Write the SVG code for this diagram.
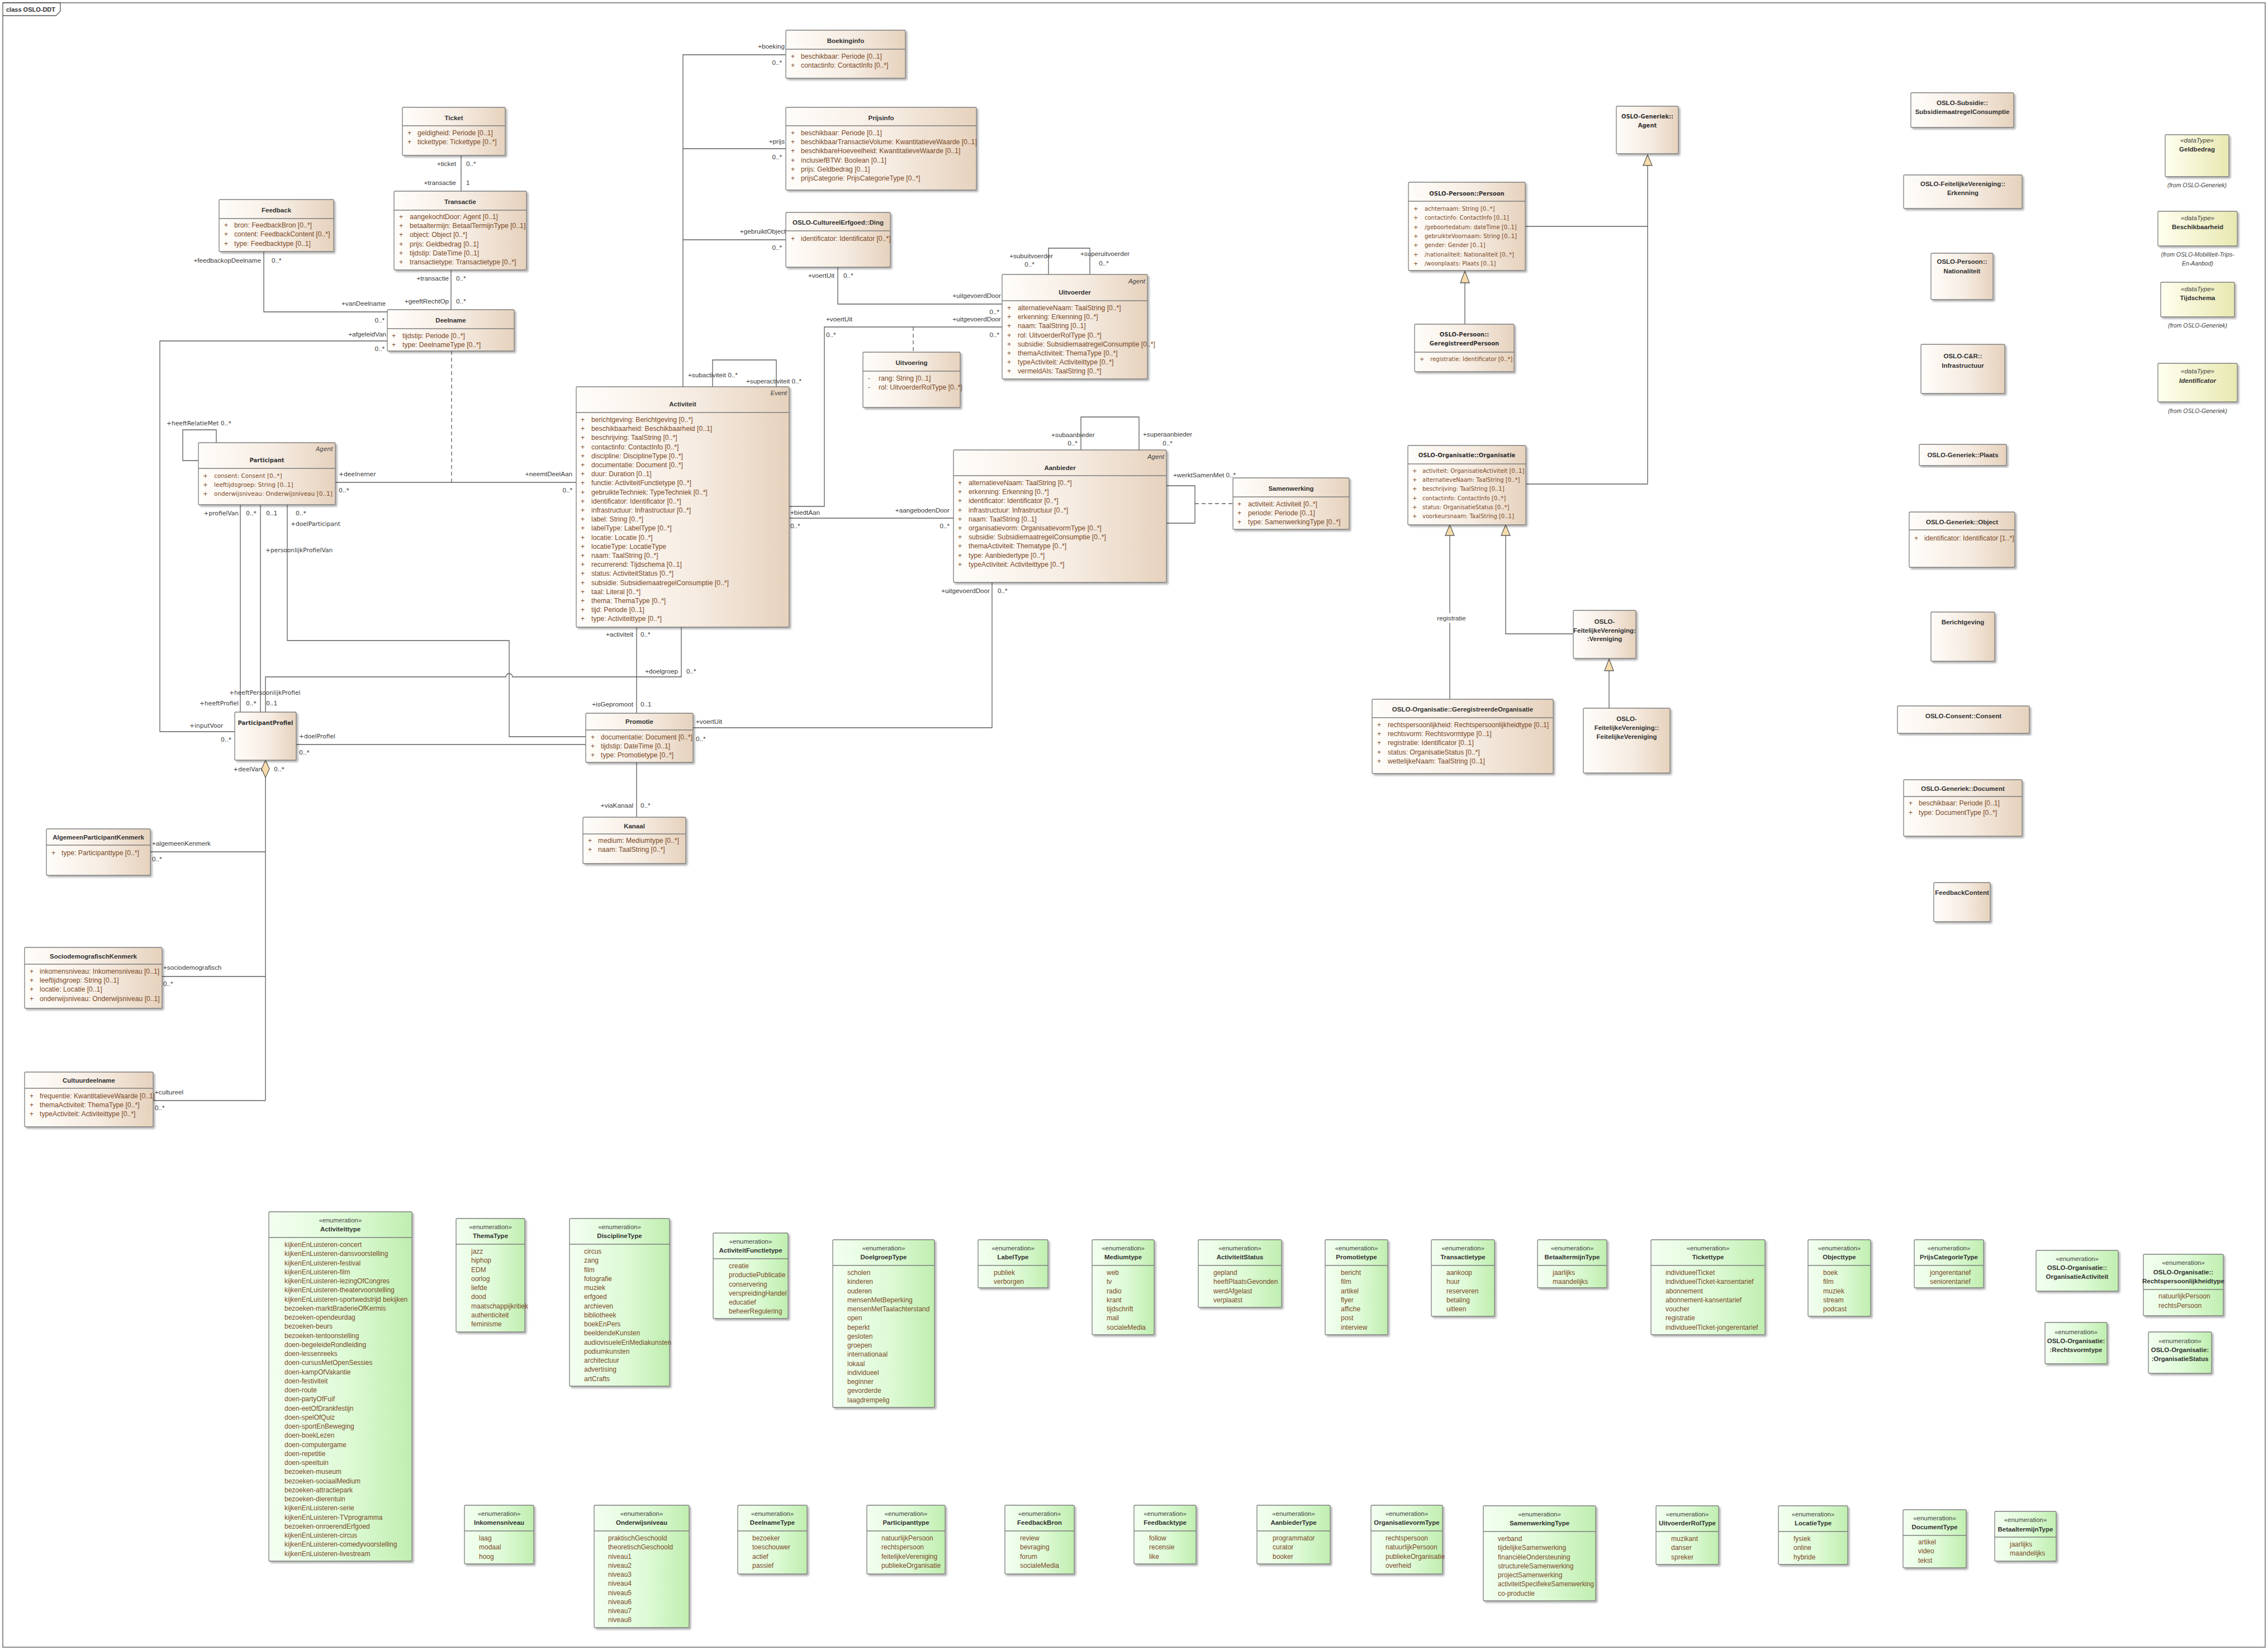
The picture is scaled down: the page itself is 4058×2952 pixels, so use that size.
<svg xmlns="http://www.w3.org/2000/svg" width="4058" height="2952" viewBox="0 0 4058 2952">
<defs>
<linearGradient id="gc" x1="0" y1="0" x2="1" y2="0"><stop offset="0" stop-color="#fffdfa"/><stop offset="0.55" stop-color="#f6ece2"/><stop offset="1" stop-color="#e6d2bd"/></linearGradient>
<linearGradient id="ge" x1="0" y1="0" x2="1" y2="0"><stop offset="0" stop-color="#f3fff1"/><stop offset="0.55" stop-color="#defad6"/><stop offset="1" stop-color="#c0eeb0"/></linearGradient>
<linearGradient id="gd" x1="0" y1="0" x2="1" y2="0"><stop offset="0" stop-color="#ffffef"/><stop offset="1" stop-color="#e8e8b2"/></linearGradient>
<filter id="sh" x="-5%" y="-5%" width="115%" height="115%"><feDropShadow dx="3" dy="3" stdDeviation="1.5" flood-color="#000" flood-opacity="0.28"/></filter>
</defs>
<style>
.c{fill:url(#gc);stroke:#7d7d7d;stroke-width:1.3;filter:url(#sh)}
.e{fill:url(#ge);stroke:#7d7d7d;stroke-width:1.3;filter:url(#sh)}
.d{fill:url(#gd);stroke:#7d7d7d;stroke-width:1.3;filter:url(#sh)}
.dv{stroke:#7d7d7d;stroke-width:1.3}
text{font-family:"Liberation Sans",Arial,sans-serif}
.ti{font-size:11.5px;font-weight:bold;fill:#333;text-anchor:middle}
.at{font-size:12.2px;fill:#7b4a28}
.st{font-size:11.5px;font-style:italic;fill:#444;text-anchor:end}
.en{font-size:11.5px;fill:#444;text-anchor:middle}
.ei{font-size:12px;fill:#7b4a28}
.lb{font-size:11.7px;fill:#3a3a3a}
.r{text-anchor:end}
.m{text-anchor:middle}
.tiv{font-family:"DejaVu Sans",Verdana,sans-serif;font-size:10px;font-weight:bold;fill:#333;text-anchor:middle}
.atv{font-family:"DejaVu Sans",Verdana,sans-serif;font-size:10px;fill:#7b4a28}
.atp{font-family:"DejaVu Sans",Verdana,sans-serif;font-size:10.5px;fill:#7b4a28}
.lbv{font-family:"DejaVu Sans",Verdana,sans-serif;font-size:10.7px;fill:#3a3a3a}
.stv{font-family:"DejaVu Sans",Verdana,sans-serif;font-size:10.5px;font-style:italic;fill:#444;text-anchor:end}
.fr{font-size:10.5px;font-style:italic;fill:#444;text-anchor:middle}
.ln{fill:none;stroke:#5c5c5c;stroke-width:1.3}
.ds{stroke-dasharray:7 5}
.tr{fill:#f8dcab;stroke:#5c5c5c;stroke-width:1.3}
</style>
<rect x="0" y="0" width="4058" height="2952" fill="#fff"/>
<g id="frame">
<rect x="5" y="5" width="4048" height="2942" fill="none" stroke="#555" stroke-width="1.3"/>
<path d="M5,5 H108 V20 L100,28 H5" fill="none" stroke="#555" stroke-width="1.3"/>
<text x="11" y="21" style="font-size:11px;font-weight:bold;fill:#333">class OSLO-DDT</text>
</g>

<g id="connectors">
<path class="ln" d="M825,278 V342"/>
<path class="ln" d="M807,483 V554"/>
<path class="ln" d="M472,450 V558 H693"/>
<path class="ln" d="M693,610 H286 V1309 H420"/>
<path class="ln ds" d="M808,628 V863"/>
<path class="ln" d="M600,863 H1031"/>
<path class="ln" d="M355,824 H327 V769 H387 V792"/>
<path class="ln" d="M430,903 V1274"/>
<path class="ln" d="M466,903 V1274"/>
<path class="ln" d="M514,903 V1146 H911 V1318 H1048"/>
<path class="ln" d="M475,1274 V1211 H905 A6,6 0 0 1 917,1211 H1219 V1122"/>
<path class="ln" d="M1139,1122 V1276"/>
<path class="ln" d="M530,1332 H1048"/>
<path class="ln" d="M475,1391 V1969 M269,1524 H475 M290,1747 H475 M274,1969 H475"/>
<polygon class="tr" points="475,1360 482,1375.5 475,1391 468,1375.5"/>
<path class="ln" d="M1222,692 V98 H1406 M1222,266 H1406 M1222,429 H1406"/>
<path class="ln" d="M1275,692 V644 H1389 V692"/>
<path class="ln" d="M1499,478 V544 H1793"/>
<path class="ln" d="M1412,906 H1475 V585 H1793"/>
<path class="ln ds" d="M1634,585 V630"/>
<path class="ln" d="M1876,491 V444 H1950 V491"/>
<path class="ln" d="M1412,927 H1706"/>
<path class="ln" d="M1934,805 V746 H2038 V805"/>
<path class="ln" d="M2087,869 H2138 V936 H2087"/>
<path class="ln ds" d="M2138,901 H2206"/>
<path class="ln" d="M1775,1042 V1302 H1240"/>
<path class="ln" d="M1139,1364 V1462"/>
<path class="ln" d="M2948,296 V866 M2729,405 H2948 M2731,866 H2948"/>
<polygon class="tr" points="2948,277 2956,296 2940,296"/>
<path class="ln" d="M2621,506 V580"/>
<polygon class="tr" points="2621,485 2629,506 2613,506"/>
<path class="ln" d="M2594,958 V1251 M2694,958 V1134 H2815"/>
<polygon class="tr" points="2594,939 2602,958 2586,958"/>
<polygon class="tr" points="2694,939 2702,958 2686,958"/>
<path class="ln" d="M2879,1200 V1267"/>
<polygon class="tr" points="2879,1179 2887,1200 2871,1200"/>
<rect x="2571" y="1097" width="52" height="17" fill="#fff"/>
<text class="lb m" x="2597" y="1110">registratie</text>

<text class="lb r" x="816" y="297">+ticket</text><text class="lb" x="834" y="297">0..*</text>
<text class="lb r" x="816" y="331">+transactie</text><text class="lb" x="834" y="331">1</text>
<text class="lb r" x="803" y="502">+transactie</text><text class="lb" x="816" y="502">0..*</text>
<text class="lb r" x="803" y="543">+geeftRechtOp</text><text class="lb" x="816" y="543">0..*</text>
<text class="lb r" x="467" y="470">+feedbackopDeelname</text><text class="lb" x="486" y="470">0..*</text>
<text class="lb r" x="690" y="547">+vanDeelname</text><text class="lb r" x="688" y="577">0..*</text>
<text class="lb r" x="691" y="602">+afgeleidVan</text><text class="lb r" x="688" y="628">0..*</text>
<text class="lbv" x="339" y="1302">+inputVoor</text><text class="lbv r" x="414" y="1327">0..*</text>
<text class="lbv" x="606" y="852">+deelnemer</text><text class="lbv" x="606" y="881">0..*</text>
<text class="lb r" x="1024" y="852">+neemtDeelAan</text><text class="lb r" x="1024" y="881">0..*</text>
<text class="lbv" x="298" y="761">+heeftRelatieMet 0..*</text>
<text class="lbv r" x="427" y="922">+profielVan</text><text class="lbv" x="440" y="922">0..*</text>
<text class="lbv r" x="427" y="1262">+heeftProfiel</text><text class="lbv" x="440" y="1262">0..*</text>
<text class="lbv" x="476" y="922">0..1</text><text class="lbv" x="475" y="988">+persoonlijkProfielVan</text>
<text class="lbv" x="410" y="1243">+heeftPersoonlijkProfiel</text><text class="lbv" x="476" y="1262">0..1</text>
<text class="lbv" x="529" y="922">0..*</text><text class="lbv" x="520" y="941">+doelParticipant</text>
<text class="lb r" x="1213" y="1205">+doelgroep</text><text class="lb" x="1228" y="1205">0..*</text>
<text class="lb r" x="1133" y="1139">+activiteit</text><text class="lb" x="1146" y="1139">0..*</text>
<text class="lb r" x="1133" y="1264">+isGepromoot</text><text class="lb" x="1146" y="1264">0..1</text>
<text class="lbv" x="535" y="1321">+doelProfiel</text><text class="lbv" x="535" y="1350">0..*</text>
<text class="lbv r" x="469" y="1380">+deelVan</text><text class="lbv" x="490" y="1380">0..*</text>
<text class="lb" x="272" y="1513">+algemeenKenmerk</text><text class="lb" x="272" y="1541">0..*</text>
<text class="lb" x="292" y="1735">+sociodemografisch</text><text class="lb" x="292" y="1764">0..*</text>
<text class="lb" x="277" y="1958">+cultureel</text><text class="lb" x="277" y="1986">0..*</text>
<text class="lb r" x="1404" y="87">+boeking</text><text class="lb r" x="1399" y="116">0..*</text>
<text class="lb r" x="1404" y="257">+prijs</text><text class="lb r" x="1399" y="285">0..*</text>
<text class="lb r" x="1406" y="418">+gebruiktObject</text><text class="lb r" x="1399" y="447">0..*</text>
<text class="lb" x="1231" y="675">+subactiviteit 0..*</text>
<text class="lb" x="1335" y="686">+superactiviteit 0..*</text>
<text class="lb r" x="1493" y="497">+voertUit</text><text class="lb" x="1509" y="497">0..*</text>
<text class="lb r" x="1791" y="533">+uitgevoerdDoor</text><text class="lb r" x="1788" y="562">0..*</text>
<text class="lb" x="1478" y="575">+voertUit</text><text class="lb" x="1478" y="603">0..*</text>
<text class="lb r" x="1791" y="575">+uitgevoerdDoor</text><text class="lb r" x="1788" y="603">0..*</text>
<text class="lb m" x="1845" y="462">+subuitvoerder</text><text class="lb m" x="1842" y="477">0..*</text>
<text class="lb" x="1933" y="458">+superuitvoerder</text><text class="lb m" x="1975" y="475">0..*</text>
<text class="lb" x="1414" y="921">+biedtAan</text><text class="lb" x="1414" y="945">0..*</text>
<text class="lb r" x="1699" y="917">+aangebodenDoor</text><text class="lb r" x="1699" y="945">0..*</text>
<text class="lb" x="1881" y="782">+subaanbieder</text><text class="lb m" x="1919" y="797">0..*</text>
<text class="lb" x="2045" y="781">+superaanbieder</text><text class="lb m" x="2089" y="797">0..*</text>
<text class="lb" x="2099" y="854">+werktSamenMet 0..*</text>
<text class="lb r" x="1771" y="1061">+uitgevoerdDoor</text><text class="lb" x="1785" y="1061">0..*</text>
<text class="lb" x="1245" y="1295">+voertUit</text><text class="lb" x="1245" y="1326">0..*</text>
<text class="lb r" x="1133" y="1445">+viaKanaal</text><text class="lb" x="1146" y="1445">0..*</text>
</g>

<g id="Ticket"><rect class="c" x="720" y="192" width="184" height="86" rx="2"/><text class="ti" x="812" y="215">Ticket</text><line class="dv" x1="720" y1="225" x2="904" y2="225"/>
<text class="at" x="729" y="242">+<tspan x="729" dy="16.2">+</tspan></text>
<text class="at" x="747" y="242">geldigheid: Periode [0..1]<tspan x="747" dy="16.2">tickettype: Tickettype [0..*]</tspan></text></g>

<g id="Transactie"><rect class="c" x="705" y="342" width="237" height="141" rx="2"/><text class="ti" x="823.5" y="365">Transactie</text><line class="dv" x1="705" y1="376" x2="942" y2="376"/>
<text class="at" x="714" y="392">+<tspan x="714" dy="16.2">+</tspan><tspan x="714" dy="16.2">+</tspan><tspan x="714" dy="16.2">+</tspan><tspan x="714" dy="16.2">+</tspan><tspan x="714" dy="16.2">+</tspan></text>
<text class="at" x="733" y="392">aangekochtDoor: Agent [0..1]<tspan x="733" dy="16.2">betaaltermijn: BetaalTermijnType [0..1]</tspan><tspan x="733" dy="16.2">object: Object [0..*]</tspan><tspan x="733" dy="16.2">prijs: Geldbedrag [0..1]</tspan><tspan x="733" dy="16.2">tijdstip: DateTime [0..1]</tspan><tspan x="733" dy="16.2">transactietype: Transactietype [0..*]</tspan></text></g>

<g id="Feedback"><rect class="c" x="392" y="357" width="205" height="93" rx="2"/><text class="ti" x="494.5" y="380">Feedback</text><line class="dv" x1="392" y1="391" x2="597" y2="391"/>
<text class="at" x="401" y="407">+<tspan x="401" dy="16.4">+</tspan><tspan x="401" dy="16.4">+</tspan></text>
<text class="at" x="419" y="407">bron: FeedbackBron [0..*]<tspan x="419" dy="16.4">content: FeedbackContent [0..*]</tspan><tspan x="419" dy="16.4">type: Feedbacktype [0..1]</tspan></text></g>

<g id="Deelname"><rect class="c" x="693" y="554" width="227" height="74" rx="2"/><text class="ti" x="806.5" y="577">Deelname</text><line class="dv" x1="693" y1="588" x2="920" y2="588"/>
<text class="at" x="701" y="605">+<tspan x="701" dy="16">+</tspan></text>
<text class="at" x="720" y="605">tijdstip: Periode [0..*]<tspan x="720" dy="16">type: DeelnameType [0..*]</tspan></text></g>

<g id="Boekinginfo"><rect class="c" x="1406" y="54" width="214" height="86" rx="2"/><text class="ti" x="1513" y="77">Boekinginfo</text><line class="dv" x1="1406" y1="88" x2="1620" y2="88"/>
<text class="at" x="1415" y="105">+<tspan x="1415" dy="16.2">+</tspan></text>
<text class="at" x="1433" y="105">beschikbaar: Periode [0..1]<tspan x="1433" dy="16.2">contactinfo: ContactInfo [0..*]</tspan></text></g>

<g id="Prijsinfo"><rect class="c" x="1406" y="192" width="341" height="148" rx="2"/><text class="ti" x="1576.5" y="215">Prijsinfo</text><line class="dv" x1="1406" y1="225" x2="1747" y2="225"/>
<text class="at" x="1415" y="242">+<tspan x="1415" dy="16.2">+</tspan><tspan x="1415" dy="16.2">+</tspan><tspan x="1415" dy="16.2">+</tspan><tspan x="1415" dy="16.2">+</tspan><tspan x="1415" dy="16.2">+</tspan></text>
<text class="at" x="1433" y="242">beschikbaar: Periode [0..1]<tspan x="1433" dy="16.2">beschikbaarTransactieVolume: KwantitatieveWaarde [0..1]</tspan><tspan x="1433" dy="16.2">beschikbareHoeveelheid: KwantitatieveWaarde [0..1]</tspan><tspan x="1433" dy="16.2">inclusiefBTW: Boolean [0..1]</tspan><tspan x="1433" dy="16.2">prijs: Geldbedrag [0..1]</tspan><tspan x="1433" dy="16.2">prijsCategorie: PrijsCategorieType [0..*]</tspan></text></g>

<g id="Ding"><rect class="c" x="1406" y="380" width="187" height="98" rx="2"/><text class="ti" x="1499.5" y="402">OSLO-CultureelErfgoed::Ding</text><line class="dv" x1="1406" y1="413" x2="1593" y2="413"/>
<text class="at" x="1415" y="431">+</text><text class="at" x="1433" y="431">identificator: Identificator [0..*]</text></g>

<g id="Uitvoering"><rect class="c" x="1544" y="630" width="174" height="99" rx="2"/><text class="ti" x="1631" y="653">Uitvoering</text><line class="dv" x1="1544" y1="664" x2="1718" y2="664"/>
<text class="at" x="1553" y="681">-<tspan x="1553" dy="16.2">-</tspan></text>
<text class="at" x="1572" y="681">rang: String [0..1]<tspan x="1572" dy="16.2">rol: UitvoerderRolType [0..*]</tspan></text></g>

<g id="Uitvoerder"><rect class="c" x="1793" y="491" width="260" height="187" rx="2"/><text class="st" x="2049" y="507">Agent</text><text class="ti" x="1923" y="527">Uitvoerder</text><line class="dv" x1="1793" y1="538" x2="2053" y2="538"/>
<text class="at" x="1802" y="555">+<tspan x="1802" dy="16.2">+</tspan><tspan x="1802" dy="16.2">+</tspan><tspan x="1802" dy="16.2">+</tspan><tspan x="1802" dy="16.2">+</tspan><tspan x="1802" dy="16.2">+</tspan><tspan x="1802" dy="16.2">+</tspan><tspan x="1802" dy="16.2">+</tspan></text>
<text class="at" x="1821" y="555">alternatieveNaam: TaalString [0..*]<tspan x="1821" dy="16.2">erkenning: Erkenning [0..*]</tspan><tspan x="1821" dy="16.2">naam: TaalString [0..1]</tspan><tspan x="1821" dy="16.2">rol: UitvoerderRolType [0..*]</tspan><tspan x="1821" dy="16.2">subsidie: SubsidiemaatregelConsumptie [0..*]</tspan><tspan x="1821" dy="16.2">themaActiviteit: ThemaType [0..*]</tspan><tspan x="1821" dy="16.2">typeActiviteit: Activiteittype [0..*]</tspan><tspan x="1821" dy="16.2">vermeldAls: TaalString [0..*]</tspan></text></g>

<g id="Activiteit"><rect class="c" x="1031" y="692" width="381" height="430" rx="2"/><text class="st" x="1408" y="707">Event</text><text class="ti" x="1221.5" y="727">Activiteit</text><line class="dv" x1="1031" y1="738" x2="1412" y2="738"/>
<text class="at" x="1039" y="755">+<tspan x="1039" dy="16.2">+</tspan><tspan x="1039" dy="16.2">+</tspan><tspan x="1039" dy="16.2">+</tspan><tspan x="1039" dy="16.2">+</tspan><tspan x="1039" dy="16.2">+</tspan><tspan x="1039" dy="16.2">+</tspan><tspan x="1039" dy="16.2">+</tspan><tspan x="1039" dy="16.2">+</tspan><tspan x="1039" dy="16.2">+</tspan><tspan x="1039" dy="16.2">+</tspan><tspan x="1039" dy="16.2">+</tspan><tspan x="1039" dy="16.2">+</tspan><tspan x="1039" dy="16.2">+</tspan><tspan x="1039" dy="16.2">+</tspan><tspan x="1039" dy="16.2">+</tspan><tspan x="1039" dy="16.2">+</tspan><tspan x="1039" dy="16.2">+</tspan><tspan x="1039" dy="16.2">+</tspan><tspan x="1039" dy="16.2">+</tspan><tspan x="1039" dy="16.2">+</tspan><tspan x="1039" dy="16.2">+</tspan><tspan x="1039" dy="16.2">+</tspan></text>
<text class="at" x="1058" y="755">berichtgeving: Berichtgeving [0..*]<tspan x="1058" dy="16.2">beschikbaarheid: Beschikbaarheid [0..1]</tspan><tspan x="1058" dy="16.2">beschrijving: TaalString [0..*]</tspan><tspan x="1058" dy="16.2">contactinfo: ContactInfo [0..*]</tspan><tspan x="1058" dy="16.2">discipline: DisciplineType [0..*]</tspan><tspan x="1058" dy="16.2">documentatie: Document [0..*]</tspan><tspan x="1058" dy="16.2">duur: Duration [0..1]</tspan><tspan x="1058" dy="16.2">functie: ActiviteitFunctietype [0..*]</tspan><tspan x="1058" dy="16.2">gebruikteTechniek: TypeTechniek [0..*]</tspan><tspan x="1058" dy="16.2">identificator: Identificator [0..*]</tspan><tspan x="1058" dy="16.2">infrastructuur: Infrastructuur [0..*]</tspan><tspan x="1058" dy="16.2">label: String [0..*]</tspan><tspan x="1058" dy="16.2">labelType: LabelType [0..*]</tspan><tspan x="1058" dy="16.2">locatie: Locatie [0..*]</tspan><tspan x="1058" dy="16.2">locatieType: LocatieType</tspan><tspan x="1058" dy="16.2">naam: TaalString [0..*]</tspan><tspan x="1058" dy="16.2">recurrerend: Tijdschema [0..1]</tspan><tspan x="1058" dy="16.2">status: ActiviteitStatus [0..*]</tspan><tspan x="1058" dy="16.2">subsidie: SubsidiemaatregelConsumptie [0..*]</tspan><tspan x="1058" dy="16.2">taal: Literal [0..*]</tspan><tspan x="1058" dy="16.2">thema: ThemaType [0..*]</tspan><tspan x="1058" dy="16.2">tijd: Periode [0..1]</tspan><tspan x="1058" dy="16.2">type: Activiteittype [0..*]</tspan></text></g>

<g id="Aanbieder"><rect class="c" x="1706" y="805" width="381" height="237" rx="2"/><text class="st" x="2083" y="821">Agent</text><text class="ti" x="1896.5" y="841">Aanbieder</text><line class="dv" x1="1706" y1="851" x2="2087" y2="851"/>
<text class="at" x="1714" y="868">+<tspan x="1714" dy="16.2">+</tspan><tspan x="1714" dy="16.2">+</tspan><tspan x="1714" dy="16.2">+</tspan><tspan x="1714" dy="16.2">+</tspan><tspan x="1714" dy="16.2">+</tspan><tspan x="1714" dy="16.2">+</tspan><tspan x="1714" dy="16.2">+</tspan><tspan x="1714" dy="16.2">+</tspan><tspan x="1714" dy="16.2">+</tspan></text>
<text class="at" x="1733" y="868">alternatieveNaam: TaalString [0..*]<tspan x="1733" dy="16.2">erkenning: Erkenning [0..*]</tspan><tspan x="1733" dy="16.2">identificator: Identificator [0..*]</tspan><tspan x="1733" dy="16.2">infrastructuur: Infrastructuur [0..*]</tspan><tspan x="1733" dy="16.2">naam: TaalString [0..1]</tspan><tspan x="1733" dy="16.2">organisatievorm: OrganisatievormType [0..*]</tspan><tspan x="1733" dy="16.2">subsidie: SubsidiemaatregelConsumptie [0..*]</tspan><tspan x="1733" dy="16.2">themaActiviteit: Thematype [0..*]</tspan><tspan x="1733" dy="16.2">type: Aanbiedertype [0..*]</tspan><tspan x="1733" dy="16.2">typeActiviteit: Activiteittype [0..*]</tspan></text></g>

<g id="Samenwerking"><rect class="c" x="2206" y="855" width="208" height="92" rx="2"/><text class="ti" x="2310" y="878">Samenwerking</text><line class="dv" x1="2206" y1="889" x2="2414" y2="889"/>
<text class="at" x="2214" y="906">+<tspan x="2214" dy="16.2">+</tspan><tspan x="2214" dy="16.2">+</tspan></text>
<text class="at" x="2233" y="906">activiteit: Activiteit [0..*]<tspan x="2233" dy="16.2">periode: Periode [0..1]</tspan><tspan x="2233" dy="16.2">type: SamenwerkingType [0..*]</tspan></text></g>

<g id="Participant"><rect class="c" x="355" y="792" width="245" height="111" rx="2"/><text class="stv" x="596" y="807">Agent</text><text class="tiv" x="477.5" y="827">Participant</text><line class="dv" x1="355" y1="838" x2="600" y2="838"/>
<text class="atp" x="363" y="855">+<tspan x="363" dy="16">+</tspan><tspan x="363" dy="16">+</tspan></text>
<text class="atp" x="383" y="855">consent: Consent [0..*]<tspan x="383" dy="16">leeftijdsgroep: String [0..1]</tspan><tspan x="383" dy="16">onderwijsniveau: Onderwijsniveau [0..1]</tspan></text></g>

<g id="ParticipantProfiel"><rect class="c" x="420" y="1274" width="110" height="86" rx="2"/><text class="tiv" x="475" y="1297">ParticipantProfiel</text></g>

<g id="Promotie"><rect class="c" x="1048" y="1276" width="192" height="88" rx="2"/><text class="ti" x="1144" y="1295">Promotie</text><line class="dv" x1="1048" y1="1306" x2="1240" y2="1306"/>
<text class="at" x="1057" y="1323">+<tspan x="1057" dy="16">+</tspan><tspan x="1057" dy="16">+</tspan></text>
<text class="at" x="1075" y="1323">documentatie: Document [0..*]<tspan x="1075" dy="16">tijdstip: DateTime [0..1]</tspan><tspan x="1075" dy="16">type: Promotietype [0..*]</tspan></text></g>

<g id="Kanaal"><rect class="c" x="1043" y="1462" width="184" height="83" rx="2"/><text class="ti" x="1135" y="1482">Kanaal</text><line class="dv" x1="1043" y1="1492" x2="1227" y2="1492"/>
<text class="at" x="1052" y="1508">+<tspan x="1052" dy="16.2">+</tspan></text>
<text class="at" x="1070" y="1508">medium: Mediumtype [0..*]<tspan x="1070" dy="16.2">naam: TaalString [0..*]</tspan></text></g>

<g id="AlgemeenParticipantKenmerk"><rect class="c" x="83" y="1483" width="186" height="83" rx="2"/><text class="ti" x="176" y="1502">AlgemeenParticipantKenmerk</text><line class="dv" x1="83" y1="1512" x2="269" y2="1512"/>
<text class="at" x="92" y="1530">+</text><text class="at" x="110" y="1530">type: Participanttype [0..*]</text></g>

<g id="SociodemografischKenmerk"><rect class="c" x="44" y="1695" width="246" height="109" rx="2"/><text class="ti" x="167" y="1715">SociodemografischKenmerk</text><line class="dv" x1="44" y1="1725" x2="290" y2="1725"/>
<text class="at" x="53" y="1742">+<tspan x="53" dy="16.2">+</tspan><tspan x="53" dy="16.2">+</tspan><tspan x="53" dy="16.2">+</tspan></text>
<text class="at" x="71" y="1742">inkomensniveau: Inkomensniveau [0..1]<tspan x="71" dy="16.2">leeftijdsgroep: String [0..1]</tspan><tspan x="71" dy="16.2">locatie: Locatie [0..1]</tspan><tspan x="71" dy="16.2">onderwijsniveau: Onderwijsniveau [0..1]</tspan></text></g>

<g id="Cultuurdeelname"><rect class="c" x="44" y="1918" width="230" height="98" rx="2"/><text class="ti" x="159" y="1937">Cultuurdeelname</text><line class="dv" x1="44" y1="1947" x2="274" y2="1947"/>
<text class="at" x="53" y="1965">+<tspan x="53" dy="16.2">+</tspan><tspan x="53" dy="16.2">+</tspan></text>
<text class="at" x="71" y="1965">frequentie: KwantitatieveWaarde [0..1]<tspan x="71" dy="16.2">themaActiviteit: ThemaType [0..*]</tspan><tspan x="71" dy="16.2">typeActiviteit: Activiteittype [0..*]</tspan></text></g>

<g id="Agent"><rect class="c" x="2892" y="190" width="111" height="85" rx="2"/><text class="tiv" x="2947.5" y="212">OSLO-Generiek::<tspan x="2947.5" dy="16">Agent</tspan></text></g>

<g id="Persoon"><rect class="c" x="2520" y="326" width="209" height="158" rx="2"/><text class="tiv" x="2624.5" y="350">OSLO-Persoon::Persoon</text><line class="dv" x1="2520" y1="360" x2="2729" y2="360"/>
<text class="atv" x="2529" y="377">+<tspan x="2529" dy="16.3">+</tspan><tspan x="2529" dy="16.3">+</tspan><tspan x="2529" dy="16.3">+</tspan><tspan x="2529" dy="16.3">+</tspan><tspan x="2529" dy="16.3">+</tspan><tspan x="2529" dy="16.3">+</tspan></text>
<text class="atv" x="2549" y="377">achternaam: String [0..*]<tspan x="2549" dy="16.3">contactinfo: ContactInfo [0..1]</tspan><tspan x="2549" dy="16.3">/geboortedatum: dateTime [0..1]</tspan><tspan x="2549" dy="16.3">gebruikteVoornaam: String [0..1]</tspan><tspan x="2549" dy="16.3">gender: Gender [0..1]</tspan><tspan x="2549" dy="16.3">/nationaliteit: Nationaliteit [0..*]</tspan><tspan x="2549" dy="16.3">/woonplaats: Plaats [0..1]</tspan></text></g>

<g id="GeregistreerdPersoon"><rect class="c" x="2531" y="580" width="178" height="85" rx="2"/><text class="tiv" x="2620" y="602">OSLO-Persoon::<tspan x="2620" dy="16">GeregistreerdPersoon</tspan></text><line class="dv" x1="2531" y1="630" x2="2709" y2="630"/>
<text class="atv" x="2540" y="646">+</text><text class="atv" x="2559" y="646">registratie: Identificator [0..*]</text></g>

<g id="Organisatie"><rect class="c" x="2519" y="797" width="211" height="142" rx="2"/><text class="tiv" x="2624.5" y="818">OSLO-Organisatie::Organisatie</text><line class="dv" x1="2519" y1="830" x2="2730" y2="830"/>
<text class="atv" x="2527" y="846">+<tspan x="2527" dy="16.2">+</tspan><tspan x="2527" dy="16.2">+</tspan><tspan x="2527" dy="16.2">+</tspan><tspan x="2527" dy="16.2">+</tspan><tspan x="2527" dy="16.2">+</tspan></text>
<text class="atv" x="2545" y="846">activiteit: OrganisatieActiviteit [0..1]<tspan x="2545" dy="16.2">alternatieveNaam: TaalString [0..*]</tspan><tspan x="2545" dy="16.2">beschrijving: TaalString [0..1]</tspan><tspan x="2545" dy="16.2">contactinfo: ContactInfo [0..*]</tspan><tspan x="2545" dy="16.2">status: OrganisatieStatus [0..*]</tspan><tspan x="2545" dy="16.2">voorkeursnaam: TaalString [0..1]</tspan></text></g>

<g id="Vereniging"><rect class="c" x="2815" y="1092" width="112" height="86" rx="2"/><text class="ti" x="2871" y="1116">OSLO-<tspan x="2871" dy="15.5">FeitelijkeVereniging:</tspan><tspan x="2871" dy="15.5">:Vereniging</tspan></text></g>

<g id="GeregistreerdeOrganisatie"><rect class="c" x="2455" y="1251" width="324" height="133" rx="2"/><text class="ti" x="2617" y="1273">OSLO-Organisatie::GeregistreerdeOrganisatie</text><line class="dv" x1="2455" y1="1284" x2="2779" y2="1284"/>
<text class="at" x="2464" y="1301">+<tspan x="2464" dy="16.2">+</tspan><tspan x="2464" dy="16.2">+</tspan><tspan x="2464" dy="16.2">+</tspan><tspan x="2464" dy="16.2">+</tspan></text>
<text class="at" x="2483" y="1301"><tspan x="2483" textLength="288" lengthAdjust="spacingAndGlyphs">rechtspersoonlijkheid: Rechtspersoonlijkheidtype [0..1]</tspan><tspan x="2483" dy="16.2">rechtsvorm: Rechtsvormtype [0..1]</tspan><tspan x="2483" dy="16.2">registratie: Identificator [0..1]</tspan><tspan x="2483" dy="16.2">status: OrganisatieStatus [0..*]</tspan><tspan x="2483" dy="16.2">wettelijkeNaam: TaalString [0..1]</tspan></text></g>

<g id="FeitelijkeVereniging"><rect class="c" x="2833" y="1267" width="155" height="116" rx="2"/><text class="ti" x="2910.5" y="1290">OSLO-<tspan x="2910.5" dy="16">FeitelijkeVereniging::</tspan><tspan x="2910.5" dy="16">FeitelijkeVereniging</tspan></text></g>

<g id="Subsidiemaatregelconsumptie"><rect class="c" x="3419" y="166" width="184" height="62" rx="2"/><text class="ti" x="3511" y="188">OSLO-Subsidie::<tspan x="3511" dy="16">SubsidiemaatregelConsumptie</tspan></text></g>
<g id="Erkenning"><rect class="c" x="3406" y="313" width="212" height="60" rx="2"/><text class="ti" x="3512" y="333">OSLO-FeitelijkeVereniging::<tspan x="3512" dy="16">Erkenning</tspan></text></g>
<g id="Nationaliteit"><rect class="c" x="3455" y="453" width="111" height="83" rx="2"/><text class="ti" x="3510.5" y="472">OSLO-Persoon::<tspan x="3510.5" dy="17">Nationaliteit</tspan></text></g>
<g id="Infrastructuur"><rect class="c" x="3437" y="616" width="150" height="88" rx="2"/><text class="ti" x="3512" y="641">OSLO-C&amp;R::<tspan x="3512" dy="17">Infrastructuur</tspan></text></g>
<g id="Plaats"><rect class="c" x="3434" y="795" width="156" height="38" rx="2"/><text class="ti" x="3512" y="818">OSLO-Generiek::Plaats</text></g>
<g id="Object"><rect class="c" x="3416" y="916" width="189" height="99" rx="2"/><text class="ti" x="3510.5" y="938">OSLO-Generiek::Object</text><line class="dv" x1="3416" y1="948" x2="3605" y2="948"/>
<text class="at" x="3425" y="967">+</text><text class="at" x="3443" y="967">identificator: Identificator [1..*]</text></g>
<g id="Berichtgeving"><rect class="c" x="3455" y="1095" width="114" height="88" rx="2"/><text class="ti" x="3512" y="1117">Berichtgeving</text></g>
<g id="Consent"><rect class="c" x="3395" y="1263" width="236" height="49" rx="2"/><text class="ti" x="3513" y="1285">OSLO-Consent::Consent</text></g>
<g id="Document"><rect class="c" x="3406" y="1395" width="212" height="101" rx="2"/><text class="ti" x="3512" y="1415">OSLO-Generiek::Document</text><line class="dv" x1="3406" y1="1425" x2="3618" y2="1425"/>
<text class="at" x="3415" y="1441">+<tspan x="3415" dy="16.5">+</tspan></text>
<text class="at" x="3433" y="1441">beschikbaar: Periode [0..1]<tspan x="3433" dy="16.5">type: DocumentType [0..*]</tspan></text></g>
<g id="FeedbackContent"><rect class="c" x="3460" y="1579" width="101" height="70" rx="2"/><text class="ti" x="3510.5" y="1601">FeedbackContent</text></g>

<g id="Geldbedrag"><rect class="d" x="3874" y="241" width="114" height="75" rx="2"/><text class="en" x="3931" y="255" style="font-style:italic">«dataType»</text><text class="ti" x="3931" y="271">Geldbedrag</text><text class="fr" x="3931" y="335">(from OSLO-Generiek)</text></g>
<g id="Beschikbaarheid"><rect class="d" x="3861" y="378" width="142" height="62" rx="2"/><text class="en" x="3932" y="394" style="font-style:italic">«dataType»</text><text class="ti" x="3932" y="410">Beschikbaarheid</text><text class="fr" x="3932" y="459">(from OSLO-Mobiliteit-Trips-<tspan x="3932" dy="16">En-Aanbod)</tspan></text></g>
<g id="Tijdschema"><rect class="d" x="3866" y="505" width="132" height="62" rx="2"/><text class="en" x="3932" y="521" style="font-style:italic">«dataType»</text><text class="ti" x="3932" y="537">Tijdschema</text><text class="fr" x="3932" y="586">(from OSLO-Generiek)</text></g>
<g id="Identificator"><rect class="d" x="3861" y="650" width="142" height="69" rx="2"/><text class="en" x="3932" y="668" style="font-style:italic">«dataType»</text><text class="ti" x="3932" y="685" style="font-style:italic">Identificator</text><text class="fr" x="3932" y="739">(from OSLO-Generiek)</text></g>

<g id="Activiteittype"><rect class="e" x="481" y="2168" width="256" height="625" rx="2"/><text class="en" x="609" y="2187">«enumeration»</text><text class="ti" x="609" y="2203">Activiteittype</text><line class="dv" x1="481" y1="2214" x2="737" y2="2214"/>
<text class="ei" x="509" y="2231">kijkenEnLuisteren-concert<tspan x="509" dy="16.25">kijkenEnLuisteren-dansvoorstelling</tspan><tspan x="509" dy="16.25">kijkenEnLuisteren-festival</tspan><tspan x="509" dy="16.25">kijkenEnLuisteren-film</tspan><tspan x="509" dy="16.25">kijkenEnLuisteren-lezingOfCongres</tspan><tspan x="509" dy="16.25">kijkenEnLuisteren-theatervoorstelling</tspan><tspan x="509" dy="16.25">kijkenEnLuisteren-sportwedstrijd bekijken</tspan><tspan x="509" dy="16.25">bezoeken-marktBraderieOfKermis</tspan><tspan x="509" dy="16.25">bezoeken-opendeurdag</tspan><tspan x="509" dy="16.25">bezoeken-beurs</tspan><tspan x="509" dy="16.25">bezoeken-tentoonstelling</tspan><tspan x="509" dy="16.25">doen-begeleideRondleiding</tspan><tspan x="509" dy="16.25">doen-lessenreeks</tspan><tspan x="509" dy="16.25">doen-cursusMetOpenSessies</tspan><tspan x="509" dy="16.25">doen-kampOfVakantie</tspan><tspan x="509" dy="16.25">doen-festiviteit</tspan><tspan x="509" dy="16.25">doen-route</tspan><tspan x="509" dy="16.25">doen-partyOfFuif</tspan><tspan x="509" dy="16.25">doen-eetOfDrankfestijn</tspan><tspan x="509" dy="16.25">doen-spelOfQuiz</tspan><tspan x="509" dy="16.25">doen-sportEnBeweging</tspan><tspan x="509" dy="16.25">doen-boekLezen</tspan><tspan x="509" dy="16.25">doen-computergame</tspan><tspan x="509" dy="16.25">doen-repetitie</tspan><tspan x="509" dy="16.25">doen-speeltuin</tspan><tspan x="509" dy="16.25">bezoeken-museum</tspan><tspan x="509" dy="16.25">bezoeken-sociaalMedium</tspan><tspan x="509" dy="16.25">bezoeken-attractiepark</tspan><tspan x="509" dy="16.25">bezoeken-dierentuin</tspan><tspan x="509" dy="16.25">kijkenEnLuisteren-serie</tspan><tspan x="509" dy="16.25">kijkenEnLuisteren-TVprogramma</tspan><tspan x="509" dy="16.25">bezoeken-onroerendErfgoed</tspan><tspan x="509" dy="16.25">kijkenEnLuisteren-circus</tspan><tspan x="509" dy="16.25">kijkenEnLuisteren-comedyvoorstelling</tspan><tspan x="509" dy="16.25">kijkenEnLuisteren-livestream</tspan></text></g>

<g id="ThemaType"><rect class="e" x="816" y="2180" width="123" height="203" rx="2"/><text class="en" x="877.5" y="2199">«enumeration»</text><text class="ti" x="877.5" y="2215">ThemaType</text><line class="dv" x1="816" y1="2226" x2="939" y2="2226"/>
<text class="ei" x="843" y="2243">jazz<tspan x="843" dy="16.25">hiphop</tspan><tspan x="843" dy="16.25">EDM</tspan><tspan x="843" dy="16.25">oorlog</tspan><tspan x="843" dy="16.25">liefde</tspan><tspan x="843" dy="16.25">dood</tspan><tspan x="843" dy="16.25">maatschappijkritiek</tspan><tspan x="843" dy="16.25">authenticiteit</tspan><tspan x="843" dy="16.25">feminisme</tspan></text></g>

<g id="DisciplineType"><rect class="e" x="1019" y="2180" width="179" height="300" rx="2"/><text class="en" x="1108.5" y="2199">«enumeration»</text><text class="ti" x="1108.5" y="2215">DisciplineType</text><line class="dv" x1="1019" y1="2226" x2="1198" y2="2226"/>
<text class="ei" x="1045" y="2243">circus<tspan x="1045" dy="16.25">zang</tspan><tspan x="1045" dy="16.25">film</tspan><tspan x="1045" dy="16.25">fotografie</tspan><tspan x="1045" dy="16.25">muziek</tspan><tspan x="1045" dy="16.25">erfgoed</tspan><tspan x="1045" dy="16.25">archieven</tspan><tspan x="1045" dy="16.25">bibliotheek</tspan><tspan x="1045" dy="16.25">boekEnPers</tspan><tspan x="1045" dy="16.25">beeldendeKunsten</tspan><tspan x="1045" dy="16.25">audiovisueleEnMediakunsten</tspan><tspan x="1045" dy="16.25">podiumkunsten</tspan><tspan x="1045" dy="16.25">architectuur</tspan><tspan x="1045" dy="16.25">advertising</tspan><tspan x="1045" dy="16.25">artCrafts</tspan></text></g>

<g id="ActiviteitFunctietype"><rect class="e" x="1276" y="2206" width="134" height="153" rx="2"/><text class="en" x="1343" y="2225">«enumeration»</text><text class="ti" x="1343" y="2241">ActiviteitFunctietype</text><line class="dv" x1="1276" y1="2252" x2="1410" y2="2252"/>
<text class="ei" x="1304" y="2269">creatie<tspan x="1304" dy="16.25">productiePublicatie</tspan><tspan x="1304" dy="16.25">conservering</tspan><tspan x="1304" dy="16.25">verspreidingHandel</tspan><tspan x="1304" dy="16.25">educatief</tspan><tspan x="1304" dy="16.25">beheerRegulering</tspan></text></g>

<g id="DoelgroepType"><rect class="e" x="1490" y="2218" width="182" height="300" rx="2"/><text class="en" x="1581" y="2237">«enumeration»</text><text class="ti" x="1581" y="2253">DoelgroepType</text><line class="dv" x1="1490" y1="2264" x2="1672" y2="2264"/>
<text class="ei" x="1516" y="2281">scholen<tspan x="1516" dy="16.25">kinderen</tspan><tspan x="1516" dy="16.25">ouderen</tspan><tspan x="1516" dy="16.25">mensenMetBeperking</tspan><tspan x="1516" dy="16.25">mensenMetTaalachterstand</tspan><tspan x="1516" dy="16.25">open</tspan><tspan x="1516" dy="16.25">beperkt</tspan><tspan x="1516" dy="16.25">gesloten</tspan><tspan x="1516" dy="16.25">groepen</tspan><tspan x="1516" dy="16.25">internationaal</tspan><tspan x="1516" dy="16.25">lokaal</tspan><tspan x="1516" dy="16.25">individueel</tspan><tspan x="1516" dy="16.25">beginner</tspan><tspan x="1516" dy="16.25">gevorderde</tspan><tspan x="1516" dy="16.25">laagdrempelig</tspan></text></g>

<g id="LabelType"><rect class="e" x="1750" y="2218" width="125" height="86" rx="2"/><text class="en" x="1812.5" y="2237">«enumeration»</text><text class="ti" x="1812.5" y="2253">LabelType</text><line class="dv" x1="1750" y1="2264" x2="1875" y2="2264"/>
<text class="ei" x="1778" y="2281">publiek<tspan x="1778" dy="16.25">verborgen</tspan></text></g>

<g id="Mediumtype"><rect class="e" x="1954" y="2218" width="111" height="170" rx="2"/><text class="en" x="2009.5" y="2237">«enumeration»</text><text class="ti" x="2009.5" y="2253">Mediumtype</text><line class="dv" x1="1954" y1="2264" x2="2065" y2="2264"/>
<text class="ei" x="1980" y="2281">web<tspan x="1980" dy="16.25">tv</tspan><tspan x="1980" dy="16.25">radio</tspan><tspan x="1980" dy="16.25">krant</tspan><tspan x="1980" dy="16.25">tijdschrift</tspan><tspan x="1980" dy="16.25">mail</tspan><tspan x="1980" dy="16.25">socialeMedia</tspan></text></g>

<g id="ActiviteitStatus"><rect class="e" x="2144" y="2218" width="149" height="121" rx="2"/><text class="en" x="2218.5" y="2237">«enumeration»</text><text class="ti" x="2218.5" y="2253">ActiviteitStatus</text><line class="dv" x1="2144" y1="2264" x2="2293" y2="2264"/>
<text class="ei" x="2171" y="2281">gepland<tspan x="2171" dy="16.25">heeftPlaatsGevonden</tspan><tspan x="2171" dy="16.25">werdAfgelast</tspan><tspan x="2171" dy="16.25">verplaatst</tspan></text></g>

<g id="Promotietype"><rect class="e" x="2371" y="2218" width="112" height="170" rx="2"/><text class="en" x="2427" y="2237">«enumeration»</text><text class="ti" x="2427" y="2253">Promotietype</text><line class="dv" x1="2371" y1="2264" x2="2483" y2="2264"/>
<text class="ei" x="2399" y="2281">bericht<tspan x="2399" dy="16.25">film</tspan><tspan x="2399" dy="16.25">artikel</tspan><tspan x="2399" dy="16.25">flyer</tspan><tspan x="2399" dy="16.25">affiche</tspan><tspan x="2399" dy="16.25">post</tspan><tspan x="2399" dy="16.25">interview</tspan></text></g>

<g id="Transactietype"><rect class="e" x="2561" y="2218" width="113" height="137" rx="2"/><text class="en" x="2617.5" y="2237">«enumeration»</text><text class="ti" x="2617.5" y="2253">Transactietype</text><line class="dv" x1="2561" y1="2264" x2="2674" y2="2264"/>
<text class="ei" x="2588" y="2281">aankoop<tspan x="2588" dy="16.25">huur</tspan><tspan x="2588" dy="16.25">reserveren</tspan><tspan x="2588" dy="16.25">betaling</tspan><tspan x="2588" dy="16.25">uitleen</tspan></text></g>

<g id="BetaaltermijnType1"><rect class="e" x="2751" y="2218" width="124" height="86" rx="2"/><text class="en" x="2813" y="2237">«enumeration»</text><text class="ti" x="2813" y="2253">BetaaltermijnType</text><line class="dv" x1="2751" y1="2264" x2="2875" y2="2264"/>
<text class="ei" x="2778" y="2281">jaarlijks<tspan x="2778" dy="16.25">maandelijks</tspan></text></g>

<g id="Tickettype"><rect class="e" x="2954" y="2218" width="204" height="170" rx="2"/><text class="en" x="3056" y="2237">«enumeration»</text><text class="ti" x="3056" y="2253">Tickettype</text><line class="dv" x1="2954" y1="2264" x2="3158" y2="2264"/>
<text class="ei" x="2980" y="2281">individueelTicket<tspan x="2980" dy="16.25">individueelTicket-kansentarief</tspan><tspan x="2980" dy="16.25">abonnement</tspan><tspan x="2980" dy="16.25">abonnement-kansentarief</tspan><tspan x="2980" dy="16.25">voucher</tspan><tspan x="2980" dy="16.25">registratie</tspan><tspan x="2980" dy="16.25">individueelTicket-jongerentarief</tspan></text></g>

<g id="Objecttype"><rect class="e" x="3235" y="2218" width="112" height="137" rx="2"/><text class="en" x="3291" y="2237">«enumeration»</text><text class="ti" x="3291" y="2253">Objecttype</text><line class="dv" x1="3235" y1="2264" x2="3347" y2="2264"/>
<text class="ei" x="3262" y="2281">boek<tspan x="3262" dy="16.25">film</tspan><tspan x="3262" dy="16.25">muziek</tspan><tspan x="3262" dy="16.25">stream</tspan><tspan x="3262" dy="16.25">podcast</tspan></text></g>

<g id="PrijsCategorieType"><rect class="e" x="3425" y="2218" width="124" height="86" rx="2"/><text class="en" x="3487" y="2237">«enumeration»</text><text class="ti" x="3487" y="2253">PrijsCategorieType</text><line class="dv" x1="3425" y1="2264" x2="3549" y2="2264"/>
<text class="ei" x="3453" y="2281">jongerentarief<tspan x="3453" dy="16.25">seniorentarief</tspan></text></g>

<g id="OrganisatieActiviteit"><rect class="e" x="3643" y="2237" width="147" height="73" rx="2"/><text class="en" x="3716.5" y="2256">«enumeration»</text><text class="ti" x="3716.5" y="2272">OSLO-Organisatie::<tspan x="3716.5" dy="16">OrganisatieActiviteit</tspan></text></g>

<g id="Rechtspersoonlijkheidtype"><rect class="e" x="3835" y="2244" width="143" height="110" rx="2"/><text class="en" x="3906.5" y="2263">«enumeration»</text><text class="ti" x="3906.5" y="2280">OSLO-Organisatie::<tspan x="3906.5" dy="16">Rechtspersoonlijkheidtype</tspan></text><line class="dv" x1="3835" y1="2307" x2="3978" y2="2307"/>
<text class="ei" x="3862" y="2323">natuurlijkPersoon<tspan x="3862" dy="16.5">rechtsPersoon</tspan></text></g>

<g id="Rechtsvormtype"><rect class="e" x="3659" y="2366" width="111" height="74" rx="2"/><text class="en" x="3714.5" y="2387">«enumeration»</text><text class="ti" x="3714.5" y="2403">OSLO-Organisatie:<tspan x="3714.5" dy="15.5">:Rechtsvormtype</tspan></text></g>

<g id="OrganisatieStatus"><rect class="e" x="3844" y="2383" width="113" height="74" rx="2"/><text class="en" x="3900.5" y="2403">«enumeration»</text><text class="ti" x="3900.5" y="2419">OSLO-Organisatie:<tspan x="3900.5" dy="16">:OrganisatieStatus</tspan></text></g>

<g id="Inkomensniveau"><rect class="e" x="831" y="2693" width="124" height="105" rx="2"/><text class="en" x="893" y="2712">«enumeration»</text><text class="ti" x="893" y="2728">Inkomensniveau</text><line class="dv" x1="831" y1="2739" x2="955" y2="2739"/>
<text class="ei" x="857" y="2756">laag<tspan x="857" dy="16.25">modaal</tspan><tspan x="857" dy="16.25">hoog</tspan></text></g>

<g id="Onderwijsniveau"><rect class="e" x="1063" y="2693" width="170" height="219" rx="2"/><text class="en" x="1148" y="2712">«enumeration»</text><text class="ti" x="1148" y="2728">Onderwijsniveau</text><line class="dv" x1="1063" y1="2739" x2="1233" y2="2739"/>
<text class="ei" x="1088" y="2756">praktischGeschoold<tspan x="1088" dy="16.25">theoretischGeschoold</tspan><tspan x="1088" dy="16.25">niveau1</tspan><tspan x="1088" dy="16.25">niveau2</tspan><tspan x="1088" dy="16.25">niveau3</tspan><tspan x="1088" dy="16.25">niveau4</tspan><tspan x="1088" dy="16.25">niveau5</tspan><tspan x="1088" dy="16.25">niveau6</tspan><tspan x="1088" dy="16.25">niveau7</tspan><tspan x="1088" dy="16.25">niveau8</tspan></text></g>

<g id="DeelnameType"><rect class="e" x="1320" y="2693" width="124" height="123" rx="2"/><text class="en" x="1382" y="2712">«enumeration»</text><text class="ti" x="1382" y="2728">DeelnameType</text><line class="dv" x1="1320" y1="2739" x2="1444" y2="2739"/>
<text class="ei" x="1346" y="2756">bezoeker<tspan x="1346" dy="16.25">toeschouwer</tspan><tspan x="1346" dy="16.25">actief</tspan><tspan x="1346" dy="16.25">passief</tspan></text></g>

<g id="Participanttype"><rect class="e" x="1551" y="2693" width="140" height="123" rx="2"/><text class="en" x="1621" y="2712">«enumeration»</text><text class="ti" x="1621" y="2728">Participanttype</text><line class="dv" x1="1551" y1="2739" x2="1691" y2="2739"/>
<text class="ei" x="1577" y="2756">natuurlijkPersoon<tspan x="1577" dy="16.25">rechtspersoon</tspan><tspan x="1577" dy="16.25">feitelijkeVereniging</tspan><tspan x="1577" dy="16.25">publiekeOrganisatie</tspan></text></g>

<g id="FeedbackBron"><rect class="e" x="1798" y="2693" width="124" height="123" rx="2"/><text class="en" x="1860" y="2712">«enumeration»</text><text class="ti" x="1860" y="2728">FeedbackBron</text><line class="dv" x1="1798" y1="2739" x2="1922" y2="2739"/>
<text class="ei" x="1825" y="2756">review<tspan x="1825" dy="16.25">bevraging</tspan><tspan x="1825" dy="16.25">forum</tspan><tspan x="1825" dy="16.25">socialeMedia</tspan></text></g>

<g id="Feedbacktype"><rect class="e" x="2029" y="2693" width="111" height="105" rx="2"/><text class="en" x="2084.5" y="2712">«enumeration»</text><text class="ti" x="2084.5" y="2728">Feedbacktype</text><line class="dv" x1="2029" y1="2739" x2="2140" y2="2739"/>
<text class="ei" x="2056" y="2756">follow<tspan x="2056" dy="16.25">recensie</tspan><tspan x="2056" dy="16.25">like</tspan></text></g>

<g id="AanbiederType"><rect class="e" x="2249" y="2693" width="131" height="105" rx="2"/><text class="en" x="2314.5" y="2712">«enumeration»</text><text class="ti" x="2314.5" y="2728">AanbiederType</text><line class="dv" x1="2249" y1="2739" x2="2380" y2="2739"/>
<text class="ei" x="2277" y="2756">programmator<tspan x="2277" dy="16.25">curator</tspan><tspan x="2277" dy="16.25">booker</tspan></text></g>

<g id="OrganisatievormType"><rect class="e" x="2453" y="2693" width="128" height="123" rx="2"/><text class="en" x="2517" y="2712">«enumeration»</text><text class="ti" x="2517" y="2728">OrganisatievormType</text><line class="dv" x1="2453" y1="2739" x2="2581" y2="2739"/>
<text class="ei" x="2479" y="2756">rechtspersoon<tspan x="2479" dy="16.25">natuurlijkPersoon</tspan><tspan x="2479" dy="16.25">publiekeOrganisatie</tspan><tspan x="2479" dy="16.25">overheid</tspan></text></g>

<g id="SamenwerkingType"><rect class="e" x="2654" y="2694" width="201" height="170" rx="2"/><text class="en" x="2754.5" y="2713">«enumeration»</text><text class="ti" x="2754.5" y="2729">SamenwerkingType</text><line class="dv" x1="2654" y1="2740" x2="2855" y2="2740"/>
<text class="ei" x="2680" y="2757">verband<tspan x="2680" dy="16.25">tijdelijkeSamenwerking</tspan><tspan x="2680" dy="16.25">financiëleOndersteuning</tspan><tspan x="2680" dy="16.25">structureleSamenwerking</tspan><tspan x="2680" dy="16.25">projectSamenwerking</tspan><tspan x="2680" dy="16.25" textLength="172" lengthAdjust="spacingAndGlyphs">activiteitSpecifiekeSamenwerking</tspan><tspan x="2680" dy="16.25">co-productie</tspan></text></g>

<g id="UitvoerderRolType"><rect class="e" x="2963" y="2694" width="112" height="105" rx="2"/><text class="en" x="3019" y="2713">«enumeration»</text><text class="ti" x="3019" y="2729">UitvoerderRolType</text><line class="dv" x1="2963" y1="2740" x2="3075" y2="2740"/>
<text class="ei" x="2990" y="2757">muzikant<tspan x="2990" dy="16.25">danser</tspan><tspan x="2990" dy="16.25">spreker</tspan></text></g>

<g id="LocatieType"><rect class="e" x="3182" y="2694" width="124" height="105" rx="2"/><text class="en" x="3244" y="2713">«enumeration»</text><text class="ti" x="3244" y="2729">LocatieType</text><line class="dv" x1="3182" y1="2740" x2="3306" y2="2740"/>
<text class="ei" x="3209" y="2757">fysiek<tspan x="3209" dy="16.25">online</tspan><tspan x="3209" dy="16.25">hybride</tspan></text></g>

<g id="DocumentType"><rect class="e" x="3405" y="2701" width="113" height="104" rx="2"/><text class="en" x="3461.5" y="2720">«enumeration»</text><text class="ti" x="3461.5" y="2736">DocumentType</text><line class="dv" x1="3405" y1="2747" x2="3518" y2="2747"/>
<text class="ei" x="3432" y="2763">artikel<tspan x="3432" dy="16.25">video</tspan><tspan x="3432" dy="16.25">tekst</tspan></text></g>

<g id="BetaaltermijnType2"><rect class="e" x="3569" y="2704" width="110" height="89" rx="2"/><text class="en" x="3624" y="2723">«enumeration»</text><text class="ti" x="3624" y="2740">BetaaltermijnType</text><line class="dv" x1="3569" y1="2750" x2="3679" y2="2750"/>
<text class="ei" x="3596" y="2767">jaarlijks<tspan x="3596" dy="16.25">maandelijks</tspan></text></g>
</svg>
